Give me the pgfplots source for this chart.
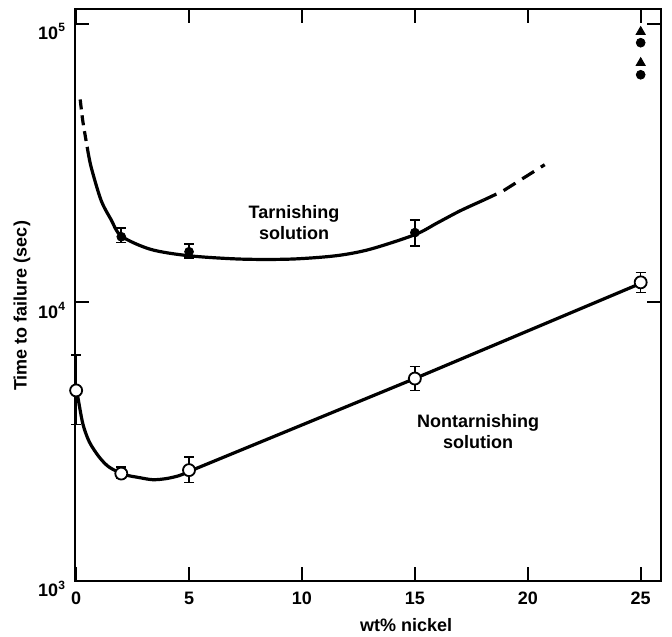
\documentclass[border=0pt]{standalone}
\usepackage{fontspec}
\setmainfont{Liberation Sans}
\usepackage{pgfplots}
\pgfplotsset{compat=1.18}
\begin{document}
\begin{tikzpicture}
\useasboundingbox (-37.5pt,-27.5pt) rectangle (298.5pt,290.5pt);
\begin{axis}[
  at={(0,0)}, anchor=south west,
  scale only axis, width=293pt, height=286pt,
  ymode=log,
  xmin=-0.05, xmax=25.9,
  ymin=1000, ymax=113000,
  xtick={0,5,10,15,20,25},
  ytick={1000,10000,100000},
  yticklabels={10\textsuperscript{3},10\textsuperscript{4},10\textsuperscript{5}},
  yminorticks=false,
  tick align=inside,
  major tick length=7pt,
  axis line style={line width=1pt},
  every tick/.style={black, line width=0.9pt},
  /pgf/number format/assume math mode=true,
  tick label style={font=\fontsize{9}{10}\selectfont\bfseries},
  yticklabel style={yshift=-4pt, xshift=-1pt},
  xticklabel style={yshift=-2pt},
  xlabel={wt\% nickel},
  ylabel={Time to failure (sec)},
  every axis x label/.style={at={(axis description cs:0.565,-0.077)}, anchor=center,
    font=\fontsize{9}{10}\selectfont\bfseries},
  every axis y label/.style={at={(axis description cs:-0.0904,0.481)}, rotate=90, anchor=center,
    font=\fontsize{9}{10}\selectfont\bfseries},
  clip=false,
]
% tarnishing curve
\addplot[black, line width=1.6pt, dash pattern=on 5pt off 3pt, smooth] coordinates {
  (0.18,53500) (0.30,44500) (0.49,36100)};
\addplot[black, line width=1.6pt, smooth, tension=0.5] coordinates {
  (0.49,36100) (0.66,30700) (1.1,23300) (1.55,19800) (2,17300) (3.3,15500)
  (5,14700) (7.3,14300) (9.5,14300) (11.5,14700) (13,15500) (15,17500)
  (16,19300) (17,21300) (18.05,23300)};
\addplot[black, line width=1.6pt, dash pattern=on 7pt off 4pt] coordinates {
  (18.05,23300) (18.9,25100) (19.8,27900) (20.75,31200)};
% nontarnishing curve
\addplot[black, line width=1.6pt, smooth, tension=0.5] coordinates {
  (0,4830) (0.075,4570) (0.30,3660) (0.59,3150) (1.03,2780) (1.47,2560)
  (2.14,2410) (2.80,2350) (3.39,2310) (3.98,2330) (4.57,2390) (5.09,2490)};
\addplot[black, line width=1.6pt] coordinates {
  (5.09,2490) (15,5330) (25,11700)};
% tarnishing data
\addplot[only marks, mark=*, mark size=2.2pt, black,
  error bars/.cd, y dir=both, y explicit,
  error bar style={line width=0.8pt}, error mark options={rotate=90, mark size=2.5pt, line width=0.8pt}]
  coordinates {
  (2,17200) += (0,1300) -= (0,800)
  (5,15200) += (0,1000) -= (0,750)
  (15,17800) += (0,2000) -= (0,1840)};
% runout points at 25 wt%
\addplot[only marks, mark=*, mark size=2.2pt, black] coordinates {(25,85500) (25,65600)};
\addplot[only marks, mark=triangle*, mark size=2.6pt, black] coordinates {(25,93600) (25,72400)};
% nontarnishing data
\addplot[only marks, mark=*, mark size=3pt, mark options={fill=white, line width=0.9pt}, black,
  error bars/.cd, y dir=both, y explicit,
  error bar style={line width=0.8pt}, error mark options={rotate=90, mark size=2.5pt, line width=0.8pt}]
  coordinates {
  (0,4830) += (0,1630) -= (0,1180)
  (2,2430) += (0,130) -= (0,95)
  (5,2500) += (0,280) -= (0,240)
  (15,5330) += (0,560) -= (0,500)
  (25,11800) += (0,1000) -= (0,940)};
\node[font=\fontsize{9}{10.5}\selectfont\bfseries, align=center] at (axis cs:9.65,19300) {Tarnishing\\solution};
\node[font=\fontsize{9}{10.5}\selectfont\bfseries, align=center] at (axis cs:17.8,3440) {Nontarnishing\\solution};
\end{axis}
\end{tikzpicture}
\end{document}
